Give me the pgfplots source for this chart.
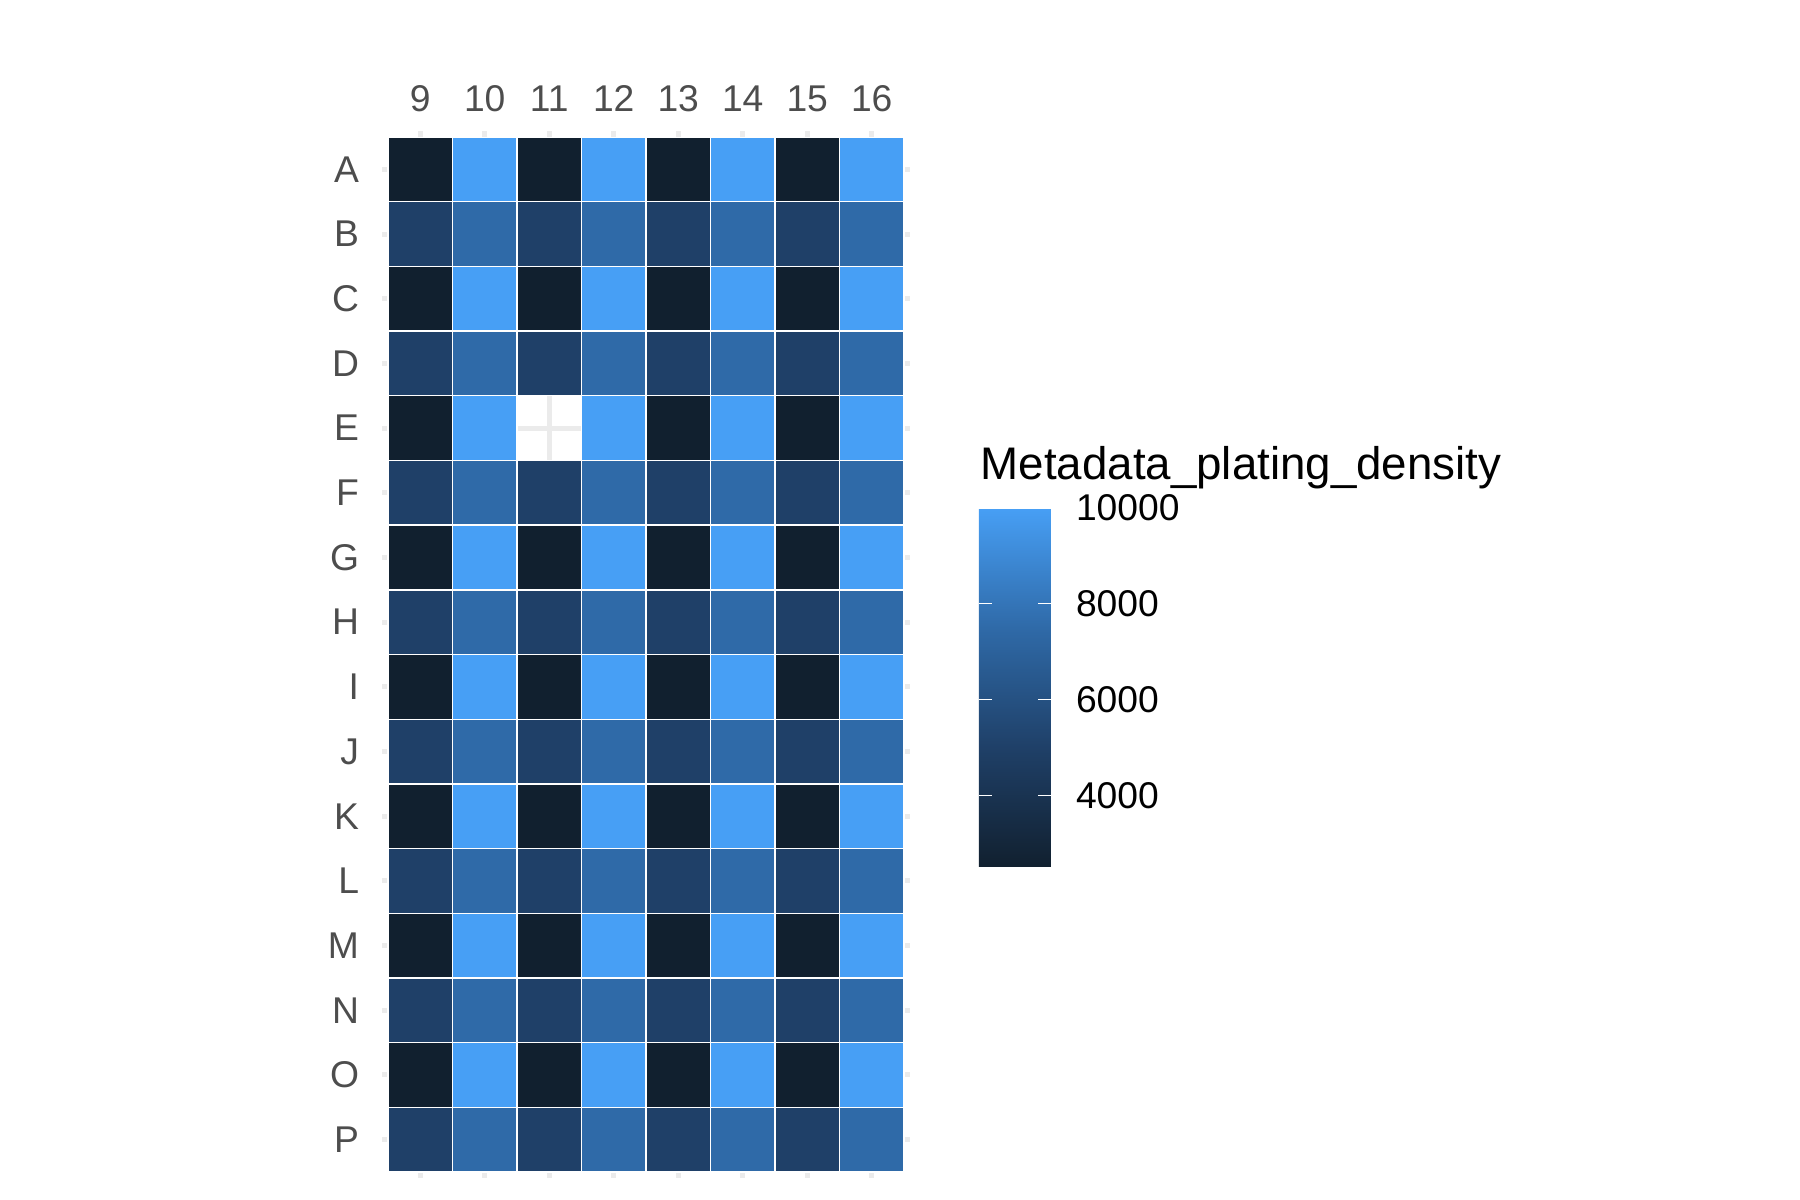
\documentclass[border=0pt]{standalone}
\usepackage{pgfplots}
\pgfplotsset{compat=1.18}
\usepackage{pgfplotstable}
\usepackage{fontspec}
\setmainfont{Liberation Sans}

\definecolor{axtext}{HTML}{4D4D4D}
\definecolor{gridc}{HTML}{EBEBEB}

% plate layout: x = column, y = row (A=1 ... P=16), v = plating density
\pgfplotstableread{
x y v
9 1 2500
10 1 10000
11 1 2500
12 1 10000
13 1 2500
14 1 10000
15 1 2500
16 1 10000
9 2 5000
10 2 7500
11 2 5000
12 2 7500
13 2 5000
14 2 7500
15 2 5000
16 2 7500
9 3 2500
10 3 10000
11 3 2500
12 3 10000
13 3 2500
14 3 10000
15 3 2500
16 3 10000
9 4 5000
10 4 7500
11 4 5000
12 4 7500
13 4 5000
14 4 7500
15 4 5000
16 4 7500
9 5 2500
10 5 10000
12 5 10000
13 5 2500
14 5 10000
15 5 2500
16 5 10000
9 6 5000
10 6 7500
11 6 5000
12 6 7500
13 6 5000
14 6 7500
15 6 5000
16 6 7500
9 7 2500
10 7 10000
11 7 2500
12 7 10000
13 7 2500
14 7 10000
15 7 2500
16 7 10000
9 8 5000
10 8 7500
11 8 5000
12 8 7500
13 8 5000
14 8 7500
15 8 5000
16 8 7500
9 9 2500
10 9 10000
11 9 2500
12 9 10000
13 9 2500
14 9 10000
15 9 2500
16 9 10000
9 10 5000
10 10 7500
11 10 5000
12 10 7500
13 10 5000
14 10 7500
15 10 5000
16 10 7500
9 11 2500
10 11 10000
11 11 2500
12 11 10000
13 11 2500
14 11 10000
15 11 2500
16 11 10000
9 12 5000
10 12 7500
11 12 5000
12 12 7500
13 12 5000
14 12 7500
15 12 5000
16 12 7500
9 13 2500
10 13 10000
11 13 2500
12 13 10000
13 13 2500
14 13 10000
15 13 2500
16 13 10000
9 14 5000
10 14 7500
11 14 5000
12 14 7500
13 14 5000
14 14 7500
15 14 5000
16 14 7500
9 15 2500
10 15 10000
11 15 2500
12 15 10000
13 15 2500
14 15 10000
15 15 2500
16 15 10000
9 16 5000
10 16 7500
11 16 5000
12 16 7500
13 16 5000
14 16 7500
15 16 5000
16 16 7500
}\platedata

\begin{document}
\begin{tikzpicture}
\useasboundingbox (0,0) rectangle (18,12);
\begin{axis}[
  at={(3.82cm,0.22cm)}, anchor=south west,
  scale only axis,
  width=5.28cm, height=10.47cm,
  xmin=8.407, xmax=16.593,
  ymin=0.407, ymax=16.593,
  y dir=reverse,
  xtick={9,...,16},
  xticklabels={9,10,11,12,13,14,15,16},
  ytick={1,...,16},
  yticklabels={A,B,C,D,E,F,G,H,I,J,K,L,M,N,O,P},
  xticklabel pos=top,
  xticklabel shift=0.07cm,
  yticklabel shift=0.106cm,
  tick label style={font=\fontsize{10.6}{12}\selectfont, text=axtext},
  major tick length=0pt,
  axis line style={draw=none},
  grid=major,
  major grid style={draw=gridc, line width=0.5mm},
  colormap={gg}{rgb255=(17,32,47) rgb255=(31,64,104) rgb255=(47,106,168) rgb255=(71,159,245)},
  point meta min=2500, point meta max=10000,
  colorbar,
  colorbar/width=0.72cm,
  colorbar style={
    at={(parent axis.north east)}, anchor=north west,
    xshift=0.39cm, yshift=-3.77cm,
    width=0.72cm, height=3.59cm,
    ytick={4000,6000,8000,10000},
    ytick pos=both,
    yticklabel pos=right,
    yticklabel shift=0.126cm,
    tick align=inside,
    major tick length=0.13cm,
    major tick style={draw=white, line width=0.12mm},
    axis line style={draw=none},
    scaled ticks=false,
    /pgf/number format/1000 sep={},
    /pgf/number format/assume math mode=true,
    yticklabel style={font=\fontsize{10.6}{12}\selectfont, text=black},
  },
]
\addplot[scatter, only marks, mark=square*, mark size=3.225mm,
  scatter src=explicit,
  scatter/use mapped color={draw=white, fill=mapped color},
  mark options={line width=0.12mm}]
  table[x=x, y=y, meta=v] {\platedata};
\end{axis}
\node[anchor=base west, inner sep=0pt, font=\fontsize{13}{15}\selectfont]
  at (9.80,7.20) {Metadata\_plating\_density};
\end{tikzpicture}
\end{document}
